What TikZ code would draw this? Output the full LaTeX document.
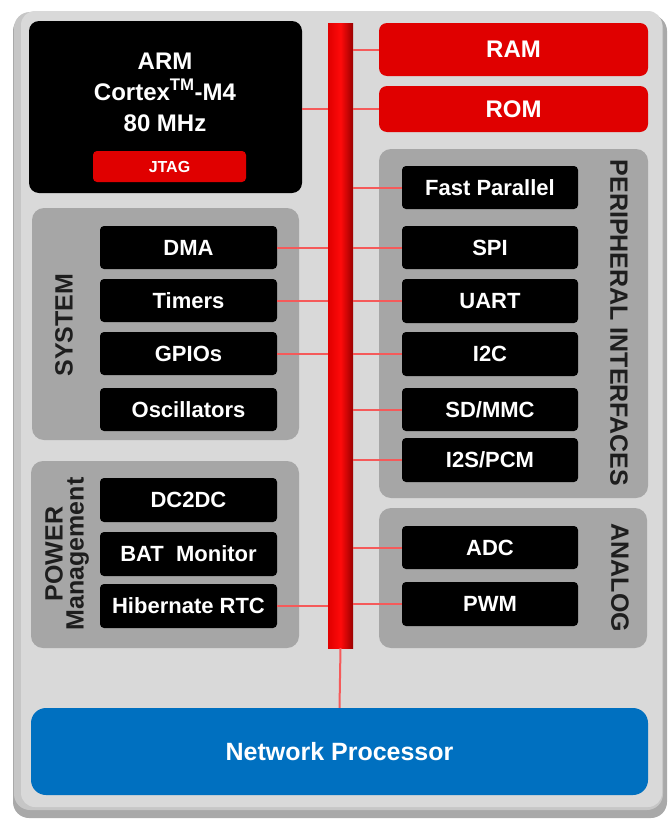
\documentclass[tikz,border=0pt]{standalone}
\usepackage{fontspec}
\setmainfont{Liberation Sans}
\definecolor{panel}{HTML}{D9D9D9}
\definecolor{panelshadow}{HTML}{A9A9A9}
\definecolor{groupgray}{HTML}{A6A6A6}
\definecolor{tired}{HTML}{E00000}
\definecolor{wire}{HTML}{F55A5A}
\definecolor{tiblue}{HTML}{0070C0}
\definecolor{labelgray}{HTML}{1E1E1E}
\definecolor{busleft}{HTML}{E00000}
\definecolor{busmid}{HTML}{FF0A0A}
\definecolor{busright}{HTML}{9A0000}
\begin{document}
\begin{tikzpicture}[x=1pt,y=-1pt,
  blk/.style={draw=none,fill=black,rounded corners=4pt,minimum width=177pt,minimum height=43pt,inner sep=0pt,
    text=white,font=\bfseries\fontsize{22}{26}\selectfont},
  blkr/.style={blk,minimum width=176pt},
  grp/.style={draw=none,fill=groupgray,rounded corners=12pt,inner sep=0pt},
  redbox/.style={draw=none,fill=tired,rounded corners=8pt,inner sep=0pt,minimum width=269pt,text=white,
    font=\bfseries\fontsize{24}{28}\selectfont},
  grplabel/.style={text=labelgray,font=\bfseries\fontsize{25}{21}\selectfont,inner sep=0pt,align=center},
  armtext/.style={text=white,font=\bfseries\fontsize{24}{28}\selectfont,anchor=base,inner sep=0pt},
  wireline/.style={draw=wire,line width=2pt}
]
\useasboundingbox[fill=white] (0,0) rectangle (668,819);
% outer panel with shadow
\fill[panelshadow,rounded corners=16pt] (13,15) rectangle (667,818);
\fill[gray!45,rounded corners=16pt] (14,12) rectangle (663,810);
\fill[panel,rounded corners=14pt] (21,11) rectangle (662,807);

% CPU
\node[draw=none,fill=black,rounded corners=10pt,minimum width=273pt,minimum height=172pt,inner sep=0pt] (arm) at (165.5,107) {};
\node[armtext] (armA) at (165,69) {ARM};
\node[armtext] (armB) at (165,100) {Cortex\textsuperscript{TM}-M4};
\node[armtext] (armC) at (165,131) {80 MHz};
\node[draw=none,fill=tired,rounded corners=4pt,minimum width=153pt,minimum height=31pt,inner sep=0pt,
  text=white,font=\bfseries\fontsize{16}{19}\selectfont] (jtag) at (169.5,166.5) {JTAG};

% memories
\node[redbox,minimum height=53pt] (ram) at (513.5,49.5) {RAM};
\node[redbox,minimum height=46pt] (rom) at (513.5,109) {ROM};

% groups
\node[grp,minimum width=267pt,minimum height=232pt] (sysgrp) at (165.5,324) {};
\node[grp,minimum width=268pt,minimum height=187pt] (pwrgrp) at (165,554.5) {};
\node[grp,minimum width=269pt,minimum height=349pt] (pergrp) at (513.5,323.5) {};
\node[grp,minimum width=268pt,minimum height=140pt] (anagrp) at (513,578) {};

\node[grplabel,rotate=90] (syslbl) at (64,325) {SYSTEM};
\node[grplabel,rotate=90] (pwrlbl) at (67,554) {POWER\\Management};
\node[grplabel,rotate=-90] (perlbl) at (619,323) {PERIPHERAL INTERFACES};
\node[grplabel,rotate=-90] (analbl) at (620,578) {ANALOG};

% system blocks
\node[blk] (dma) at (188.5,247.5) {DMA};
\node[blk] (timers) at (188.5,300.5) {Timers};
\node[blk] (gpios) at (188.5,353.5) {GPIOs};
\node[blk] (osc) at (188.5,409.5) {Oscillators};

% power blocks
\node[blk,minimum height=44pt] (dcdc) at (188.5,500) {DC2DC};
\node[blk,minimum height=44pt] (bat) at (188.5,554) {BAT\ \ Monitor};
\node[blk,minimum height=44pt] (hib) at (188.5,606) {Hibernate RTC};

% peripheral blocks
\node[blkr] (fast) at (490,187.5) {Fast Parallel};
\node[blkr] (spi) at (490,247.5) {SPI};
\node[blkr,minimum height=44pt] (uart) at (490,301) {UART};
\node[blkr,minimum height=44pt] (i2c) at (490,354) {I2C};
\node[blkr] (sdmmc) at (490,409.5) {SD/MMC};
\node[blkr,minimum height=44pt] (i2s) at (490,460) {I2S/PCM};

% analog blocks
\node[blkr] (adc) at (490,547.5) {ADC};
\node[blkr,minimum height=44pt] (pwm) at (490,604) {PWM};

% network processor
\node[draw=none,fill=tiblue,rounded corners=15pt,minimum width=617pt,minimum height=87pt,inner sep=0pt,
  text=white,font=\bfseries\fontsize{25}{30}\selectfont] (net) at (339.5,751.5) {Network Processor};

% bus
\node[draw=none,inner sep=0pt,minimum width=25pt,minimum height=625pt,
  left color=busleft,right color=busright,middle color=busmid] (bus) at (340.5,335.5) {};

% connectors
\draw[wireline] (arm.east |- rom.west) -- (bus.west |- rom.west);
\draw[wireline] (bus.east |- ram.west) -- (ram.west);
\draw[wireline] (bus.east |- rom.west) -- (rom.west);
\foreach \b in {dma,timers,gpios,hib}
  \draw[wireline] (\b.east) -- (bus.west |- \b.east);
\foreach \b in {fast,spi,uart,i2c,sdmmc,i2s,adc,pwm}
  \draw[wireline] (bus.east |- \b.west) -- (\b.west);
\draw[wireline] (bus.south) -- (net.north);
\end{tikzpicture}
\end{document}
